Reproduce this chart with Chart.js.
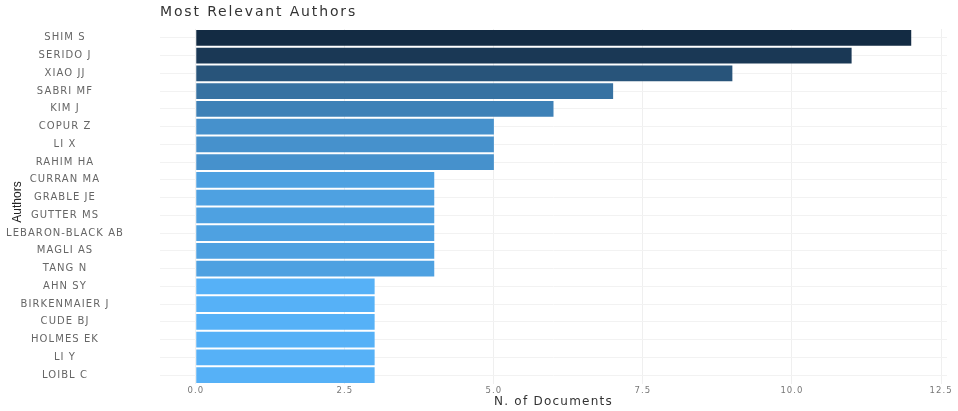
<!DOCTYPE html>
<html><head><meta charset="utf-8">
<script src="https://cdn.jsdelivr.net/npm/chart.js@4/dist/chart.umd.min.js"></script>
<style>html,body{margin:0;padding:0;background:#fff}#wrap{width:958px;height:411px}</style>
</head><body><div id="wrap"><canvas id="c" width="958" height="411"></canvas></div>
<script>
const categories = ["SHIM S","SERIDO J","XIAO JJ","SABRI MF","KIM J","COPUR Z","LI X","RAHIM HA","CURRAN MA","GRABLE JE","GUTTER MS","LEBARON-BLACK AB","MAGLI AS","TANG N","AHN SY","BIRKENMAIER J","CUDE BJ","HOLMES EK","LI Y","LOIBL C"];
const documents = [12,11,9,7,6,5,5,5,4,4,4,4,4,4,3,3,3,3,3,3];
const xTicks = [0,2.5,5,7.5,10,12.5];
const titleText = "Most Relevant Authors";
const xTitle = "N. of Documents";
const yTitle = "Authors";

// Lab gradient like ggplot default (#132B43 high -> #56B1F7 low)
function hex2rgb(h){return [parseInt(h.slice(1,3),16),parseInt(h.slice(3,5),16),parseInt(h.slice(5,7),16)];}
function toLin(c){c/=255;return c<=0.04045?c/12.92:Math.pow((c+0.055)/1.055,2.4);}
function fromLin(c){c=c<=0.0031308?12.92*c:1.055*Math.pow(c,1/2.4)-0.055;return Math.max(0,Math.min(255,Math.round(c*255)));}
function rgb2lab(rgb){const [r,g,b]=rgb.map(toLin);let X=(0.4124*r+0.3576*g+0.1805*b)/0.95047,Y=(0.2126*r+0.7152*g+0.0722*b),Z=(0.0193*r+0.1192*g+0.9505*b)/1.08883;const f=t=>t>0.008856?Math.cbrt(t):7.787*t+16/116;const fx=f(X),fy=f(Y),fz=f(Z);return [116*fy-16,500*(fx-fy),200*(fy-fz)];}
function lab2rgb(l){const fy=(l[0]+16)/116,fx=fy+l[1]/500,fz=fy-l[2]/200;const fi=t=>{const t3=t*t*t;return t3>0.008856?t3:(t-16/116)/7.787;};const X=fi(fx)*0.95047,Y=fi(fy),Z=fi(fz)*1.08883;const r=3.2406*X-1.5372*Y-0.4986*Z,g=-0.9689*X+1.8758*Y+0.0415*Z,b=0.0557*X-0.2040*Y+1.0570*Z;return `rgb(${fromLin(r)},${fromLin(g)},${fromLin(b)})`;}
const lo=rgb2lab(hex2rgb("#56B1F7")), hi=rgb2lab(hex2rgb("#132B43"));
const vmin=Math.min(...documents), vmax=Math.max(...documents);
const colors=documents.map(v=>{const t=(v-vmin)/(vmax-vmin);return lab2rgb(lo.map((a,i)=>a+(hi[i]-a)*t));});

// letter spacing so the wide reference lettering is matched
const mctx=document.createElement('canvas').getContext('2d');
function spacingFor(text,font,target){mctx.font=font;const w=mctx.measureText(text).width;return Math.max(0,(target-w)/text.length);}
const TICK_FONT='10px "DejaVu Sans"';
const tickSpacing=spacingFor("LEBARON-BLACK AB",TICK_FONT,118);

const spacingPlugin={
  id:'spacing',
  beforeLayout(chart){chart.ctx.letterSpacing=tickSpacing.toFixed(2)+'px';},
  beforeDraw(chart){chart.ctx.letterSpacing=tickSpacing.toFixed(2)+'px';}
};

const overlay = {
  id:'overlay',
  afterDraw(chart){
    const ctx=chart.ctx; const ca=chart.chartArea;
    ctx.save();
    let f='14px "DejaVu Sans"';
    ctx.letterSpacing=spacingFor(titleText,f,197).toFixed(2)+'px';
    ctx.fillStyle='#333333'; ctx.font=f;
    ctx.textAlign='left'; ctx.textBaseline='middle';
    ctx.fillText(titleText, ca.left, 12);
    f='12px "DejaVu Sans"';
    ctx.letterSpacing=spacingFor(xTitle,f,119).toFixed(2)+'px';
    ctx.font=f; ctx.fillStyle='#333333';
    ctx.textAlign='center';
    ctx.fillText(xTitle, (ca.left+ca.right)/2, 402);
    ctx.letterSpacing='0px';
    ctx.font='12px "Liberation Sans"'; ctx.fillStyle='#222222';
    ctx.translate(18, 202); ctx.rotate(-Math.PI/2);
    ctx.fillText(yTitle, 0, 0);
    ctx.restore();
  }
};

new Chart(document.getElementById('c'), {
  type:'bar',
  data:{labels:categories, datasets:[{data:documents, backgroundColor:colors, borderWidth:0, barPercentage:0.9, categoryPercentage:1}]},
  options:{
    indexAxis:'y', responsive:false, animation:false,
    layout:{padding:{top:29,left:0,right:11,bottom:0}},
    plugins:{legend:{display:false}, tooltip:{enabled:false}, title:{display:false}},
    scales:{
      x:{type:'linear', min:-0.6, max:12.6,
        afterBuildTicks(s){s.ticks=xTicks.map(v=>({value:v}));},
        afterFit(s){s.height=27; s.paddingLeft=0; s.paddingRight=0;},
        ticks:{callback:v=>Number(v).toFixed(1), color:'#777777', font:{family:'DejaVu Sans', size:8.5}, padding:2, maxRotation:0},
        grid:{color:'#EFEFEF', drawTicks:false}, border:{display:false}},
      y:{type:'category',
        afterFit(s){s.width=160; s.paddingTop=0; s.paddingBottom=0;},
        ticks:{crossAlign:'center', color:'#666666', font:{family:'DejaVu Sans', size:10}, padding:36, autoSkip:false},
        grid:{color:'#F2F2F2', offset:false, drawTicks:false}, border:{display:false}}
    }
  },
  plugins:[spacingPlugin, overlay]
});
</script>
</body></html>
